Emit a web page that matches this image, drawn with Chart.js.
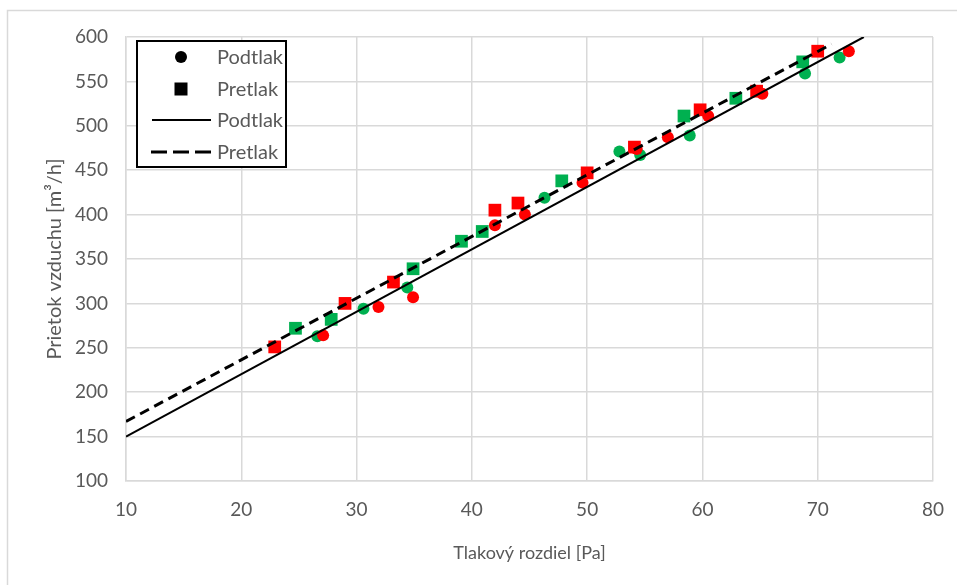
<!DOCTYPE html>
<html>
<head>
<meta charset="utf-8">
<script src="https://cdn.jsdelivr.net/npm/chart.js@4.4.1/dist/chart.umd.min.js"></script>
<style>
  html, body { margin: 0; padding: 0; background: #ffffff; }
  #wrap { width: 957px; height: 585px; position: relative; }
</style>
</head>
<body>
<div id="wrap"><canvas id="c" width="957" height="585"></canvas></div>
<script>
// ---- Data ----
const xTicks = [10, 20, 30, 40, 50, 60, 70, 80];
const yTicks = [100, 150, 200, 250, 300, 350, 400, 450, 500, 550, 600];

// Podtlak (circles), red measurement set
const podtlakRedX = [27.1, 31.9, 34.9, 42.0, 44.6, 49.6, 54.3, 57.0, 60.5, 65.2, 72.7];
const podtlakRedY = [264, 296, 307, 388, 400, 436, 474, 487, 511, 536, 584];
// Podtlak (circles), green measurement set
const podtlakGreenX = [26.6, 30.6, 34.4, 46.3, 52.8, 54.6, 58.9, 68.9, 71.9];
const podtlakGreenY = [263, 294, 318, 419, 471, 467, 489, 559, 577];
// Pretlak (squares), red measurement set
const pretlakRedX = [22.9, 29.0, 33.2, 42.0, 44.0, 50.0, 54.1, 59.8, 64.7, 70.0];
const pretlakRedY = [251, 300, 324, 405, 413, 447, 476, 518, 539, 584];
// Pretlak (squares), green measurement set
const pretlakGreenX = [24.7, 27.8, 34.9, 39.1, 40.9, 47.8, 58.4, 62.9, 68.7];
const pretlakGreenY = [272, 282, 339, 370, 381, 438, 511, 531, 572];

// Trend lines (end points)
const podtlakFitX = [10, 74];
const podtlakFitY = [150, 600];
const pretlakFitX = [10, 71.2];
const pretlakFitY = [167, 592];

const seriesNames = ['Podtlak', 'Pretlak'];

function pts(xs, ys) { return xs.map((x, i) => ({ x: x, y: ys[i] })); }

const RED = '#ff0000';
const GREEN = '#00b050';
const GRID = '#d9d9d9';
const TEXT = '#595959';
const FONT = 'Lato';

// Outer frame
const framePlugin = {
  id: 'frame',
  beforeDraw(chart) {
    const ctx = chart.ctx;
    ctx.save();
    ctx.fillStyle = '#ffffff';
    ctx.fillRect(0, 0, chart.width, chart.height);
    ctx.strokeStyle = GRID;
    ctx.lineWidth = 1.5;
    ctx.strokeRect(7.5, 10.5, chart.width + 10, chart.height + 10);
    ctx.restore();
  }
};

// Legend box inside plot area (top-left)
const legendPlugin = {
  id: 'boxLegend',
  afterDraw(chart) {
    const ctx = chart.ctx;
    const bx = 137, by = 41, bw = 149, bh = 126;
    ctx.save();
    ctx.fillStyle = '#ffffff';
    ctx.fillRect(bx, by, bw, bh);
    ctx.strokeStyle = '#000000';
    ctx.lineWidth = 2;
    ctx.strokeRect(bx, by, bw, bh);
    const rows = [57, 89, 120, 152];
    const symX = 181;
    ctx.fillStyle = '#000000';
    // circle
    ctx.beginPath(); ctx.arc(symX, rows[0], 6, 0, Math.PI * 2); ctx.fill();
    // square
    ctx.fillRect(symX - 6.5, rows[1] - 6.5, 13, 13);
    // solid line
    ctx.strokeStyle = '#000000';
    ctx.lineWidth = 2;
    ctx.beginPath(); ctx.moveTo(152, rows[2]); ctx.lineTo(211, rows[2]); ctx.stroke();
    // dashed line
    ctx.lineWidth = 3;
    ctx.setLineDash([16, 6]);
    ctx.beginPath(); ctx.moveTo(151, rows[3]); ctx.lineTo(211, rows[3]); ctx.stroke();
    ctx.setLineDash([]);
    // texts
    ctx.fillStyle = TEXT;
    ctx.font = '20px ' + FONT;
    ctx.textBaseline = 'middle';
    ctx.textAlign = 'left';
    const labels = [seriesNames[0], seriesNames[1], seriesNames[0], seriesNames[1]];
    labels.forEach((t, i) => ctx.fillText(t, 217, rows[i] + 1));
    ctx.restore();
  }
};

const ctx = document.getElementById('c').getContext('2d');
new Chart(ctx, {
  type: 'scatter',
  data: {
    datasets: [
      {
        label: seriesNames[0] + ' (trend)',
        data: pts(podtlakFitX, podtlakFitY),
        showLine: true, borderColor: '#000000', borderWidth: 2,
        pointRadius: 0, pointHoverRadius: 0, fill: false
      },
      {
        label: seriesNames[1] + ' (trend)',
        data: pts(pretlakFitX, pretlakFitY),
        showLine: true, borderColor: '#000000', borderWidth: 3, borderDash: [10, 6],
        pointRadius: 0, pointHoverRadius: 0, fill: false
      },
      {
        label: seriesNames[1],
        data: pts(pretlakRedX, pretlakRedY),
        pointStyle: 'rect', pointRadius: 9, pointBorderWidth: 0,
        backgroundColor: RED, borderColor: RED
      },
      {
        label: seriesNames[0],
        data: pts(podtlakRedX, podtlakRedY),
        pointStyle: 'circle', pointRadius: 6, pointBorderWidth: 0,
        backgroundColor: RED, borderColor: RED
      },
      {
        label: seriesNames[1],
        data: pts(pretlakGreenX, pretlakGreenY),
        pointStyle: 'rect', pointRadius: 9, pointBorderWidth: 0,
        backgroundColor: GREEN, borderColor: GREEN
      },
      {
        label: seriesNames[0],
        data: pts(podtlakGreenX, podtlakGreenY),
        pointStyle: 'circle', pointRadius: 6, pointBorderWidth: 0,
        backgroundColor: GREEN, borderColor: GREEN
      }
    ]
  },
  options: {
    responsive: false,
    animation: false,
    devicePixelRatio: 1,
    layout: { padding: { left: 0, top: 37, right: 24, bottom: 0 } },
    plugins: {
      legend: { display: false },
      tooltip: { enabled: false }
    },
    scales: {
      x: {
        type: 'linear',
        min: xTicks[0], max: xTicks[xTicks.length - 1],
        afterBuildTicks(scale) { scale.ticks = xTicks.map(v => ({ value: v })); },
        afterFit(scale) { scale.height = 104; scale.paddingLeft = 0; scale.paddingRight = 0; },
        grid: { color: GRID, lineWidth: 1.5, drawTicks: false },
        border: { color: GRID, width: 1.5 },
        ticks: { color: TEXT, font: { family: FONT, size: 19 }, padding: 17, maxRotation: 0 },
        title: {
          display: true, text: 'Tlakový rozdiel [Pa]', color: TEXT,
          font: { family: FONT, size: 18 }, padding: { top: 4, bottom: 21 }
        }
      },
      y: {
        type: 'linear',
        min: yTicks[0], max: yTicks[yTicks.length - 1],
        afterBuildTicks(scale) { scale.ticks = yTicks.map(v => ({ value: v })); },
        afterFit(scale) { scale.width = 126; scale.paddingTop = 0; scale.paddingBottom = 0; },
        grid: { color: GRID, lineWidth: 1.5, drawTicks: false },
        border: { color: GRID, width: 1.5 },
        ticks: { color: TEXT, font: { family: FONT, size: 19 }, padding: 18 },
        title: {
          display: true, text: 'Prietok vzduchu [m³/h]', color: TEXT,
          font: { family: FONT, size: 20 }, padding: { top: 43, bottom: 4 }
        }
      }
    }
  },
  plugins: [framePlugin, legendPlugin]
});
</script>
</body>
</html>
